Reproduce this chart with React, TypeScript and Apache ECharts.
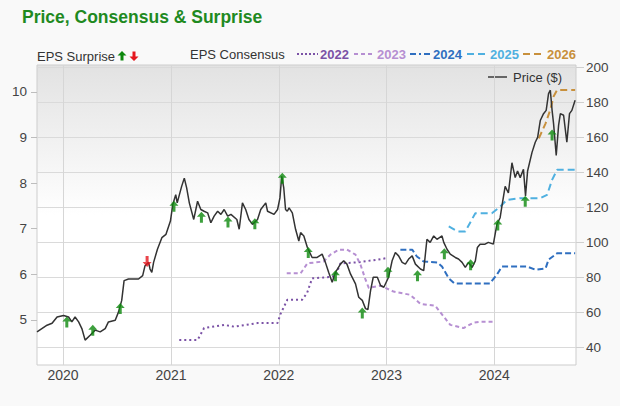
import React, { useEffect, useRef } from "react";
import * as echarts from "echarts";

const FONT = '"Liberation Sans", Arial, Helvetica, sans-serif';

const yearTicks = [2020, 2021, 2022, 2023, 2024];
const epsTicks = [5, 6, 7, 8, 9, 10];
const priceTicks = [40, 60, 80, 100, 120, 140, 160, 180, 200];

const pricePoints: [string, number][] = [
  ["2019-10-05", 48.9], ["2019-11-08", 52.7], ["2019-11-25", 53.8], ["2019-12-12", 57.4],
  ["2020-01-03", 58.3], ["2020-01-20", 57.4], ["2020-01-31", 54.6], ["2020-02-11", 57.4],
  ["2020-02-23", 54.6], ["2020-03-05", 50.8], ["2020-03-16", 44.2], ["2020-04-02", 47.0],
  ["2020-04-19", 49.9], ["2020-05-06", 48.9], ["2020-05-23", 50.8], ["2020-06-03", 54.6],
  ["2020-06-26", 55.5], ["2020-07-07", 60.2], ["2020-07-18", 66.9], ["2020-07-26", 78.2],
  ["2020-08-10", 79.1], ["2020-08-27", 79.1], ["2020-09-13", 79.1], ["2020-09-27", 81.0],
  ["2020-10-05", 86.7], ["2020-10-17", 88.6], ["2020-10-22", 84.8], ["2020-10-28", 82.9],
  ["2020-11-03", 88.6], ["2020-11-16", 96.1], ["2020-12-01", 102.7], ["2020-12-15", 104.6],
  ["2020-12-30", 112.2], ["2021-01-07", 121.6], ["2021-01-17", 127.3], ["2021-01-22", 122.6],
  ["2021-02-06", 132.0], ["2021-02-15", 136.7], ["2021-02-23", 131.1], ["2021-03-04", 122.6],
  ["2021-03-19", 113.1], ["2021-04-01", 123.5], ["2021-04-12", 118.8], ["2021-04-23", 117.8],
  ["2021-05-05", 116.9], ["2021-05-16", 111.2], ["2021-05-27", 115.0], ["2021-06-08", 117.8],
  ["2021-06-19", 116.0], ["2021-06-30", 118.8], ["2021-07-12", 115.0], ["2021-07-23", 116.0],
  ["2021-08-12", 113.1], ["2021-08-20", 107.5], ["2021-08-31", 122.6], ["2021-09-11", 118.8],
  ["2021-09-22", 113.1], ["2021-10-04", 110.3], ["2021-10-21", 113.1], ["2021-11-01", 118.8],
  ["2021-11-18", 122.6], ["2021-11-24", 117.8], ["2021-12-16", 116.0], ["2021-12-28", 118.8],
  ["2022-01-05", 125.4], ["2022-01-11", 137.7], ["2022-01-18", 131.1], ["2022-01-24", 118.8],
  ["2022-01-30", 117.8], ["2022-02-05", 119.7], ["2022-02-16", 116.9], ["2022-02-27", 107.5],
  ["2022-03-10", 100.8], ["2022-03-16", 105.6], ["2022-03-27", 103.7], ["2022-04-08", 97.1],
  ["2022-04-24", 91.4], ["2022-05-11", 91.4], ["2022-05-28", 93.3], ["2022-06-08", 88.6],
  ["2022-06-19", 82.9], ["2022-07-01", 77.2], ["2022-07-12", 82.9], ["2022-07-29", 87.6],
  ["2022-08-09", 89.5], ["2022-08-20", 87.6], ["2022-09-01", 82.0], ["2022-09-18", 76.3],
  ["2022-09-29", 68.7], ["2022-10-11", 66.9], ["2022-10-22", 62.2], ["2022-10-30", 61.6],
  ["2022-11-08", 72.5], ["2022-11-17", 80.1], ["2022-12-01", 80.1], ["2022-12-12", 75.4],
  ["2022-12-23", 74.4], ["2023-01-08", 80.1], ["2023-01-20", 89.5], ["2023-01-31", 94.2],
  ["2023-02-11", 92.3], ["2023-02-23", 88.6], ["2023-03-06", 87.6], ["2023-03-17", 90.5],
  ["2023-03-29", 92.3], ["2023-04-09", 87.6], ["2023-04-26", 84.8], ["2023-05-07", 83.9],
  ["2023-05-18", 101.8], ["2023-05-29", 100.0], ["2023-06-10", 103.7], ["2023-06-21", 101.8],
  ["2023-07-08", 103.7], ["2023-07-14", 100.0], ["2023-07-25", 96.1], ["2023-08-05", 93.3],
  ["2023-08-22", 91.4], ["2023-09-02", 90.5], ["2023-09-14", 88.6], ["2023-09-25", 85.7],
  ["2023-10-06", 88.6], ["2023-10-18", 85.7], ["2023-10-29", 89.5], ["2023-11-05", 97.1],
  ["2023-11-14", 99.0], ["2023-12-01", 99.0], ["2023-12-12", 100.0], ["2023-12-29", 99.0],
  ["2024-01-10", 110.3], ["2024-01-21", 114.1], ["2024-01-27", 120.7], ["2024-02-07", 132.0],
  ["2024-02-18", 128.2], ["2024-03-01", 145.5], ["2024-03-12", 137.0], ["2024-03-20", 140.8],
  ["2024-03-29", 137.0], ["2024-04-09", 141.7], ["2024-04-16", 126.5], ["2024-04-23", 140.8],
  ["2024-05-08", 151.4], ["2024-05-19", 157.2], ["2024-05-27", 160.0], ["2024-06-05", 169.6],
  ["2024-06-16", 173.5], ["2024-06-25", 175.4], ["2024-07-03", 185.0], ["2024-07-09", 186.9],
  ["2024-07-15", 175.4], ["2024-07-20", 167.8], ["2024-07-29", 149.6], ["2024-08-06", 166.8],
  ["2024-08-12", 173.5], ["2024-08-23", 172.6], ["2024-09-03", 157.2], ["2024-09-12", 173.5],
  ["2024-09-20", 175.4], ["2024-10-01", 181.2],
];

const consensus2022: [string, number][] = [
  ["2021-01-29", 4.56], ["2021-04-01", 4.56], ["2021-04-23", 4.82], ["2021-06-30", 4.89],
  ["2021-08-03", 4.85], ["2021-10-21", 4.93], ["2021-12-28", 4.93], ["2022-01-07", 5.13],
  ["2022-01-30", 5.44], ["2022-03-21", 5.44], ["2022-04-07", 5.59], ["2022-04-24", 5.91],
  ["2022-06-25", 5.94], ["2022-07-12", 5.97], ["2022-07-29", 6.24], ["2022-09-24", 6.26],
  ["2022-12-01", 6.32], ["2022-12-29", 6.35],
];

const consensus2023: [string, number][] = [
  ["2022-01-28", 6.02], ["2022-03-16", 6.02], ["2022-04-08", 6.24], ["2022-06-02", 6.28],
  ["2022-06-25", 6.43], ["2022-07-23", 6.54], ["2022-08-20", 6.54], ["2022-09-18", 6.43],
  ["2022-10-05", 6.21], ["2022-10-22", 5.88], ["2022-11-02", 5.70], ["2022-12-12", 5.75],
  ["2023-01-25", 5.62], ["2023-03-22", 5.55], ["2023-04-26", 5.35], ["2023-06-15", 5.31],
  ["2023-07-14", 5.07], ["2023-08-05", 4.89], ["2023-09-19", 4.82], ["2023-10-23", 4.94],
  ["2023-11-14", 4.96], ["2023-12-29", 4.96],
];

const consensus2024: [string, number][] = [
  ["2023-02-17", 6.54], ["2023-03-29", 6.54], ["2023-04-14", 6.39], ["2023-05-07", 6.28],
  ["2023-06-22", 6.26], ["2023-07-08", 6.17], ["2023-07-31", 5.91], ["2023-08-19", 5.80],
  ["2023-12-17", 5.80], ["2024-01-10", 5.99], ["2024-01-27", 6.17], ["2024-04-21", 6.17],
  ["2024-05-19", 6.10], ["2024-06-23", 6.13], ["2024-07-03", 6.32], ["2024-08-01", 6.46],
  ["2024-10-01", 6.46],
];

const consensus2025: [string, number][] = [
  ["2023-07-31", 7.05], ["2023-08-30", 6.94], ["2023-09-25", 6.94], ["2023-10-29", 7.34],
  ["2023-12-24", 7.34], ["2024-01-21", 7.48], ["2024-02-12", 7.63], ["2024-03-29", 7.67],
  ["2024-06-05", 7.67], ["2024-06-28", 7.74], ["2024-07-15", 8.07], ["2024-08-01", 8.29],
  ["2024-10-01", 8.29],
];

const consensus2026: [string, number][] = [
  ["2024-05-31", 8.98], ["2024-06-23", 9.31], ["2024-07-09", 9.61], ["2024-07-20", 9.90],
  ["2024-08-01", 10.04], ["2024-10-01", 10.04],
];

const surpriseUp: [string, number][] = [
  ["2020-01-14", 54.6], ["2020-04-11", 49.9], ["2020-07-13", 62.2], ["2021-01-11", 120.7],
  ["2021-04-14", 114.4], ["2021-07-13", 111.6], ["2021-10-12", 110.7], ["2022-01-13", 136.7],
  ["2022-04-11", 94.2], ["2022-07-12", 81.0], ["2022-10-11", 59.7], ["2023-01-06", 82.9],
  ["2023-04-16", 81.0], ["2023-07-16", 93.5], ["2023-10-13", 87.3], ["2024-01-13", 109.9],
  ["2024-04-15", 123.5], ["2024-07-15", 161.3],
];
const surpriseDown: [string, number][] = [["2020-10-12", 89.1]];

const UP_ARROW = "path://M4.5,0 L9,5 L6,5 L6,11 L3,11 L3,5 L0,5 Z";
const DOWN_ARROW = "path://M4.5,11 L9,6 L6,6 L6,0 L3,0 L3,6 L0,6 Z";

const C2022 = "#7b52a6";
const C2023 = "#b68fd2";
const C2024 = "#2f6fc0";
const C2025 = "#4fb0e0";
const C2026 = "#c8903c";
const GREEN = "#0d880d";
const RED = "#e5161e";

const toTs = (d: string) => {
  const [y, m, day] = d.split("-").map(Number);
  return new Date(y, m - 1, day).getTime();
};
const conv = (arr: [string, number][]) => arr.map(([d, v]) => [toTs(d), v]);

export default function App() {
  const ref = useRef<HTMLDivElement>(null);

  useEffect(() => {
    if (!ref.current) return;
    const chart = echarts.init(ref.current, undefined, { renderer: "svg" });
    const yearTs = yearTicks.map((y) => new Date(y, 0, 1).getTime());

    const consLine = (name: string, data: [string, number][], color: string, dash: number[]) => ({
      name,
      type: "line",
      yAxisIndex: 0,
      data: conv(data),
      showSymbol: false,
      symbol: "none",
      lineStyle: { color, width: 2, type: dash },
      z: 3,
    });

    const legendText = (text: string, x: number, y: number, fill: string, bold = false) => ({
      type: "text",
      x,
      y,
      style: {
        text,
        fill,
        fontSize: 13,
        fontFamily: FONT,
        fontWeight: bold ? "bold" : "normal",
        align: "left",
        verticalAlign: "middle",
      },
    });
    const legendLine = (x1: number, x2: number, y: number, color: string, dash: number[] | null) => ({
      type: "line",
      shape: { x1, y1: y, x2, y2: y },
      style: { stroke: color, lineWidth: 2, lineDash: dash || undefined },
    });

    chart.setOption({
      animation: false,
      backgroundColor: "#f9f9f9",
      textStyle: { fontFamily: FONT },
      grid: {
        left: 37,
        right: 44,
        top: 65,
        bottom: 41,
        show: true,
        borderColor: "#cdcdcd",
        borderWidth: 1,
        backgroundColor: new echarts.graphic.LinearGradient(0, 0, 0, 1, [
          { offset: 0, color: "#e2e2e2" },
          { offset: 0.15, color: "#ebebeb" },
          { offset: 0.5, color: "#ffffff" },
          { offset: 1, color: "#ffffff" },
        ]),
        outerBoundsMode: "none",
      },
      xAxis: {
        type: "value",
        min: new Date(2019, 9, 5).getTime(),
        max: new Date(2024, 9, 4).getTime(),
        axisLine: { show: false },
        axisTick: { show: false, customValues: yearTs },
        axisLabel: {
          customValues: yearTs,
          formatter: (v: number) => String(new Date(v).getFullYear()),
          color: "#444",
          fontSize: 14,
          fontFamily: FONT,
          margin: 3,
        },
        splitLine: { show: true, lineStyle: { color: "#d6d6d6", width: 1 } },
      },
      yAxis: [
        {
          type: "value",
          position: "left",
          min: 4.01,
          max: 10.59,
          axisLine: { show: false },
          axisTick: { show: true, length: 6, customValues: epsTicks, lineStyle: { color: "#bdbdbd" } },
          axisLabel: { customValues: epsTicks, color: "#444", fontSize: 13.5, fontFamily: FONT, margin: 10 },
          splitLine: { show: false },
        },
        {
          type: "value",
          position: "right",
          min: 30,
          max: 201.3,
          axisLine: { show: false },
          axisTick: { show: true, length: 8, customValues: priceTicks, lineStyle: { color: "#cfcfcf" } },
          axisLabel: { customValues: priceTicks, color: "#444", fontSize: 13.5, fontFamily: FONT, margin: 10 },
          splitLine: { show: true, lineStyle: { color: "#dadada", width: 1 } },
        },
      ],
      series: [
        consLine("2022", consensus2022, C2022, [2, 3]),
        consLine("2023", consensus2023, C2023, [4, 3]),
        consLine("2024", consensus2024, C2024, [6, 3]),
        consLine("2025", consensus2025, C2025, [7, 4]),
        consLine("2026", consensus2026, C2026, [7, 4]),
        {
          name: "Price ($)",
          type: "line",
          yAxisIndex: 1,
          data: conv(pricePoints),
          showSymbol: false,
          symbol: "none",
          lineStyle: { color: "#333333", width: 1.5 },
          z: 4,
        },
        {
          name: "Surprise Up",
          type: "scatter",
          yAxisIndex: 1,
          data: conv(surpriseUp),
          symbol: UP_ARROW,
          symbolSize: [9, 11],
          itemStyle: { color: GREEN },
          z: 5,
        },
        {
          name: "Surprise Down",
          type: "scatter",
          yAxisIndex: 1,
          data: conv(surpriseDown),
          symbol: DOWN_ARROW,
          symbolSize: [9, 11],
          itemStyle: { color: RED },
          z: 5,
        },
      ],
      graphic: [
        {
          type: "text",
          x: 22,
          y: 17,
          style: {
            text: "Price, Consensus & Surprise",
            fill: "#1f8a1f",
            fontSize: 17.5,
            fontWeight: "bold",
            fontFamily: FONT,
            align: "left",
            verticalAlign: "middle",
          },
        },
        legendText("EPS Surprise", 37, 56, "#333"),
        {
          type: "polygon",
          shape: { points: [[122, 51], [126.5, 55.5], [123.5, 55.5], [123.5, 60.5], [120.5, 60.5], [120.5, 55.5], [117.5, 55.5]] },
          style: { fill: GREEN },
        },
        {
          type: "polygon",
          shape: { points: [[134, 61], [138.5, 56.5], [135.5, 56.5], [135.5, 51.5], [132.5, 51.5], [132.5, 56.5], [129.5, 56.5]] },
          style: { fill: RED },
        },
        legendText("EPS Consensus", 190, 54, "#333"),
        legendLine(297, 318, 54, C2022, [2, 2]),
        legendText("2022", 320, 54, C2022, true),
        legendLine(354, 373, 54, C2023, [4, 3]),
        legendText("2023", 377, 54, C2023, true),
        legendLine(410, 431, 54, C2024, [6, 3, 2, 3]),
        legendText("2024", 433, 54, C2024, true),
        legendLine(467, 487, 54, C2025, [7, 4]),
        legendText("2025", 490, 54, C2025, true),
        legendLine(523, 544, 54, C2026, [7, 4]),
        legendText("2026", 547, 54, C2026, true),
        legendLine(488, 507, 77, "#666", null),
        legendText("Price ($)", 513, 77, "#333"),
      ],
    });

    return () => chart.dispose();
  }, []);

  return (
    <div
      ref={ref}
      style={{ position: "fixed", left: 0, top: 0, width: 620, height: 406 }}
    />
  );
}
